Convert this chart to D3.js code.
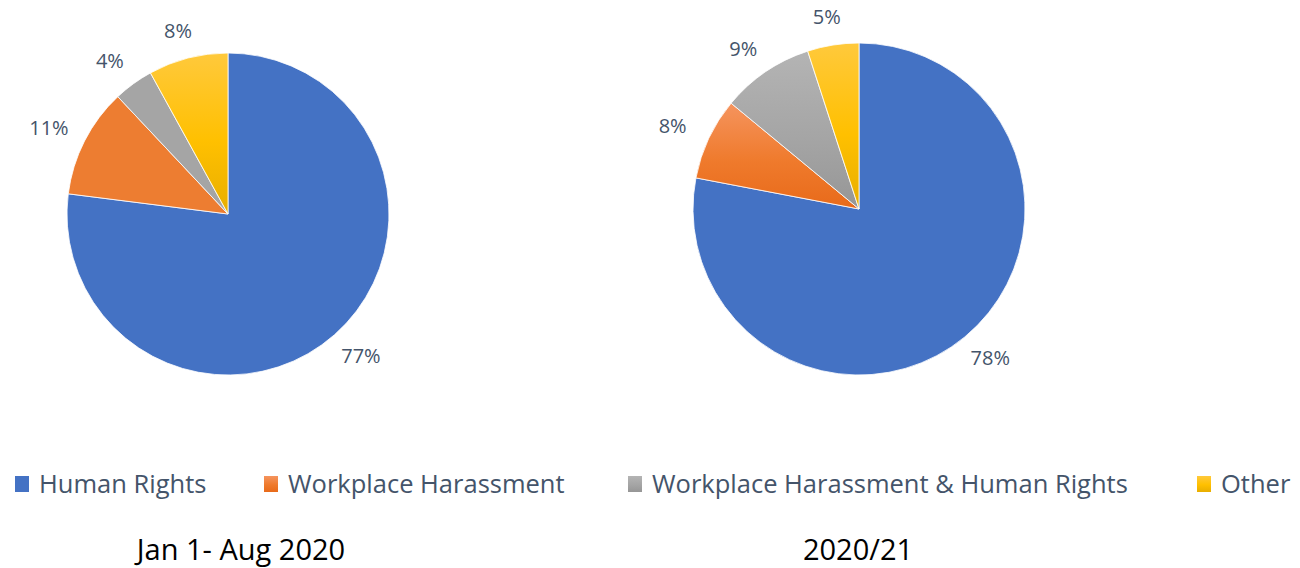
<!DOCTYPE html>
<html>
<head>
<meta charset="utf-8">
<script src="https://cdn.jsdelivr.net/npm/d3@7"></script>
<style>
  body { margin: 0; background: #fff; }
  svg { display: block; }
</style>
</head>
<body>
<div id="chart"></div>
<script>
// DATA
const categories = ["Human Rights", "Workplace Harassment", "Workplace Harassment & Human Rights", "Other"];
const valuesJanAug2020 = [77, 11, 4, 8];
const values2020_21 = [78, 8, 9, 5];
const chartTitles = ["Jan 1- Aug 2020", "2020/21"];

const width = 1300, height = 568;
const svg = d3.select('#chart').append('svg')
  .attr('width', width)
  .attr('height', height);

const color = d3.scaleOrdinal()
  .domain(categories)
  .range(["#4472C4", "#ED7D31", "#A5A5A5", "#FFC000"]);

// gradient stops [top, mid, bottom] used for the shaded slices
const shades = {
  "Workplace Harassment": ["#F5945E", "#EF7A2C", "#E86A1A"],
  "Workplace Harassment & Human Rights": ["#B4B4B4", "#A5A5A5", "#969696"],
  "Other": ["#FFC93C", "#FFC000", "#E8AE00"]
};

const defs = svg.append('defs');
Object.keys(shades).forEach((k, i) => {
  const g = defs.append('linearGradient')
    .attr('id', 'grad' + i)
    .attr('x1', 0).attr('y1', 0).attr('x2', 0).attr('y2', 1);
  g.append('stop').attr('offset', '0%').attr('stop-color', shades[k][0]);
  g.append('stop').attr('offset', '55%').attr('stop-color', shades[k][1]);
  g.append('stop').attr('offset', '100%').attr('stop-color', shades[k][2]);
});

function fillFor(cat, shaded) {
  const i = Object.keys(shades).indexOf(cat);
  if (i < 0 || shaded.indexOf(cat) < 0) return color(cat);
  return 'url(#grad' + i + ')';
}

const pie = d3.pie().sort(null).value(d => d.value);

// PIES
const pies = [
  {values: valuesJanAug2020, cx: 228, cy: 214, r: 161, shaded: ["Other"]},
  {values: values2020_21, cx: 859, cy: 209, r: 166, shaded: ["Workplace Harassment", "Workplace Harassment & Human Rights", "Other"]}
];

pies.forEach(p => {
  const data = categories.map((c, i) => ({category: c, value: p.values[i]}));
  const arcs = pie(data);
  const arc = d3.arc().innerRadius(0).outerRadius(p.r);

  const g = svg.append('g')
    .attr('transform', 'translate(' + p.cx + ',' + p.cy + ')');

  g.selectAll('path.slice').data(arcs)
    .enter().append('path')
    .attr('class', 'slice')
    .attr('d', arc)
    .attr('fill', d => fillFor(d.data.category, p.shaded))
    .attr('stroke', '#fff')
    .attr('stroke-width', 0.8);

  // labels sit just outside the rim (wider offset sideways than vertically)
  g.selectAll('text.lbl').data(arcs)
    .enter().append('text')
    .attr('class', 'lbl')
    .attr('x', d => Math.sin((d.startAngle + d.endAngle) / 2) * (p.r + 40))
    .attr('y', d => -Math.cos((d.startAngle + d.endAngle) / 2) * (p.r + 28))
    .attr('text-anchor', 'middle')
    .attr('dy', '0.35em')
    .style('font-family', '"Open Sans", sans-serif')
    .style('font-size', '20px')
    .style('fill', '#44546A')
    .text(d => d.data.value + '%');
});

// LEGEND
const legendX = [15, 264, 628, 1197];
const legend = svg.append('g').attr('class', 'legend')
  .selectAll('g').data(categories)
  .enter().append('g')
  .attr('transform', (d, i) => 'translate(' + legendX[i] + ',484)');

legend.append('rect')
  .attr('x', 0).attr('y', -8)
  .attr('width', 14).attr('height', 16)
  .attr('fill', d => fillFor(d, Object.keys(shades)));

legend.append('text')
  .attr('x', 24)
  .attr('dy', '0.35em')
  .style('font-family', '"Open Sans", sans-serif')
  .style('font-size', '25.5px')
  .style('fill', '#44546A')
  .text(d => d);

// TITLES
svg.selectAll('text.title').data(chartTitles)
  .enter().append('text')
  .attr('class', 'title')
  .attr('x', (d, i) => i === 0 ? 241 : 858)
  .attr('y', 560)
  .attr('text-anchor', 'middle')
  .style('font-family', '"Open Sans", sans-serif')
  .style('font-size', '29px')
  .style('fill', '#000')
  .text(d => d);
</script>
</body>
</html>
